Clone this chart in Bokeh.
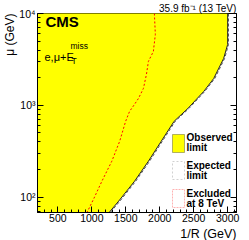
from bokeh.plotting import figure
from bokeh.models import (LogAxis, FixedTicker, Label, BoxAnnotation, Title,
                          Range1d, CustomJSTickFormatter)
from bokeh.embed import file_html
from bokeh.resources import INLINE

# ---- data ----
x_range_gev = [200, 3130]
mu_range_gev = [68, 10000]

obs_x = [3000, 3000, 2941, 2795, 2649, 2416, 2212, 2022, 1833, 1629, 1396, 1240]
obs_mu = [10000, 4600, 3240, 1960, 1420, 927, 670, 406, 246, 149, 90.6, 66]

exp_x = [3012, 3012, 2955, 2810, 2664, 2432, 2228, 2038, 1850, 1646, 1414, 1258]
exp_mu = [10000, 4600, 3240, 1960, 1420, 927, 670, 406, 246, 149, 90.6, 66]

exc8_x = [1921, 1935, 1906, 1833, 1804, 1760, 1687, 1629, 1556, 1498, 1410, 1294, 1148, 1031, 920]
exc8_mu = [10000, 5900, 3860, 3010, 2170, 1530, 1190, 1025, 860, 670, 406, 246, 149, 97, 66]

x_major = [500, 1000, 1500, 2000, 2500, 3000]
x_minor = [v for v in range(200, 3200, 100)]
y_major = [100, 1000, 10000]
y_minor = [70, 80, 90] + [d * m for d in (100, 1000) for m in range(2, 10)]
y_labels = {"100": "10²", "1000": "10³", "10000": "10⁴"}

FONT = "Liberation Sans"

p = figure(width=249, height=240, y_axis_type="log",
           x_range=Range1d(*x_range_gev), y_range=Range1d(*mu_range_gev),
           output_backend="svg", toolbar_location=None,
           min_border_left=35, min_border_right=13, min_border_top=12, min_border_bottom=27)
p.background_fill_color = "white"
p.border_fill_color = "white"
p.outline_line_color = "black"
p.grid.visible = False

# observed exclusion (yellow)
fill_x = [150] + obs_x + [150]
fill_y = [11000] + obs_mu + [60]
p.patch(fill_x, fill_y, fill_color="#FFFF00", line_color=None)
p.line(obs_x, obs_mu, line_color="#222222", line_width=1)
p.line(exp_x, exp_mu, line_color="#555555", line_width=1, line_dash="3 2")
p.line(exc8_x, exc8_mu, line_color="#FF0000", line_width=1, line_dash="2 2")

# axes styling
def style_axis(ax, labels=True):
    ax.major_tick_in = 6
    ax.major_tick_out = 0
    ax.minor_tick_in = 3
    ax.minor_tick_out = 0
    ax.axis_line_color = "black"
    ax.major_tick_line_color = "black"
    ax.minor_tick_line_color = "black"
    ax.major_label_text_font = FONT
    ax.major_label_text_color = "black"
    if not labels:
        ax.formatter = CustomJSTickFormatter(code="return ' ';")
        ax.major_label_text_font_size = "2px"
        ax.major_label_text_color = None
        ax.major_label_standoff = 0

xa = p.xaxis[0]
xa.ticker = FixedTicker(ticks=x_major, minor_ticks=x_minor)
style_axis(xa)
xa.major_label_text_font_size = "10.5px"
xa.major_label_standoff = 1

ya = p.yaxis[0]
ya.ticker = FixedTicker(ticks=y_major, minor_ticks=y_minor)
style_axis(ya)
ya.major_label_text_font_size = "10.5px"
ya.major_label_standoff = 2
ya.formatter = CustomJSTickFormatter(args=dict(lab=y_labels),
                                     code="return lab[String(Math.round(tick))] || '';")

ra = LogAxis(ticker=FixedTicker(ticks=y_major, minor_ticks=y_minor))
style_axis(ra, labels=False)
p.add_layout(ra, "right")

# outside texts as titles
p.add_layout(Title(text="35.9 fb⁻¹ (13 TeV)", align="right", text_font=FONT,
                   text_font_size="10px", text_font_style="normal", standoff=0,
                   text_color="black"), "above")
p.add_layout(Title(text="1/R (GeV)", align="right", text_font=FONT,
                   text_font_size="12.5px", text_font_style="normal", standoff=0,
                   text_color="black"), "below")
p.add_layout(Title(text="μ (GeV)", align="right", text_font=FONT,
                   text_font_size="12px", text_font_style="normal", standoff=0,
                   text_color="black"), "left")

# texts inside the frame (screen units relative to frame: x from left, y from bottom)
def lab(x, y, text, size, bold=False, align="left", baseline="alphabetic"):
    p.add_layout(Label(x=x, y=y, x_units="screen", y_units="screen", text=text,
                       text_font=FONT, text_font_size=size,
                       text_font_style="bold" if bold else "normal",
                       text_align=align, text_baseline=baseline,
                       text_color="black"))

lab(8, 200, "CMS", "15px", bold=True, baseline="top")
lab(7, 156, "e,μ+E", "11px")
lab(33, 167, "miss", "8.5px")
lab(34, 152, "T", "8.5px")

# legend
def box(l, r, t, b, **kw):
    p.add_layout(BoxAnnotation(left=l, right=r, top=t, bottom=b,
                               left_units="screen", right_units="screen",
                               top_units="screen", bottom_units="screen", **kw))

box(135, 147, 78, 60, fill_color="#FFFF00", fill_alpha=1, line_color="black", line_width=1)
box(135, 147, 51, 33, fill_alpha=0, line_color="#666666", line_width=1, line_dash="2 2")
box(135, 147, 23, 5, fill_alpha=0, line_color="#FF0000", line_width=1, line_dash="2 1")

lab(149, 75, "Observed", "10px", bold=True, baseline="middle")
lab(149, 65, "limit", "10px", bold=True, baseline="middle")
lab(149, 47, "Expected", "10px", bold=True, baseline="middle")
lab(149, 37, "limit", "10px", bold=True, baseline="middle")
lab(149, 19, "Excluded", "10px", bold=True, baseline="middle")
lab(149, 9, "at 8 TeV", "10px", bold=True, baseline="middle")

open("out.html", "w").write(file_html(p, INLINE))
